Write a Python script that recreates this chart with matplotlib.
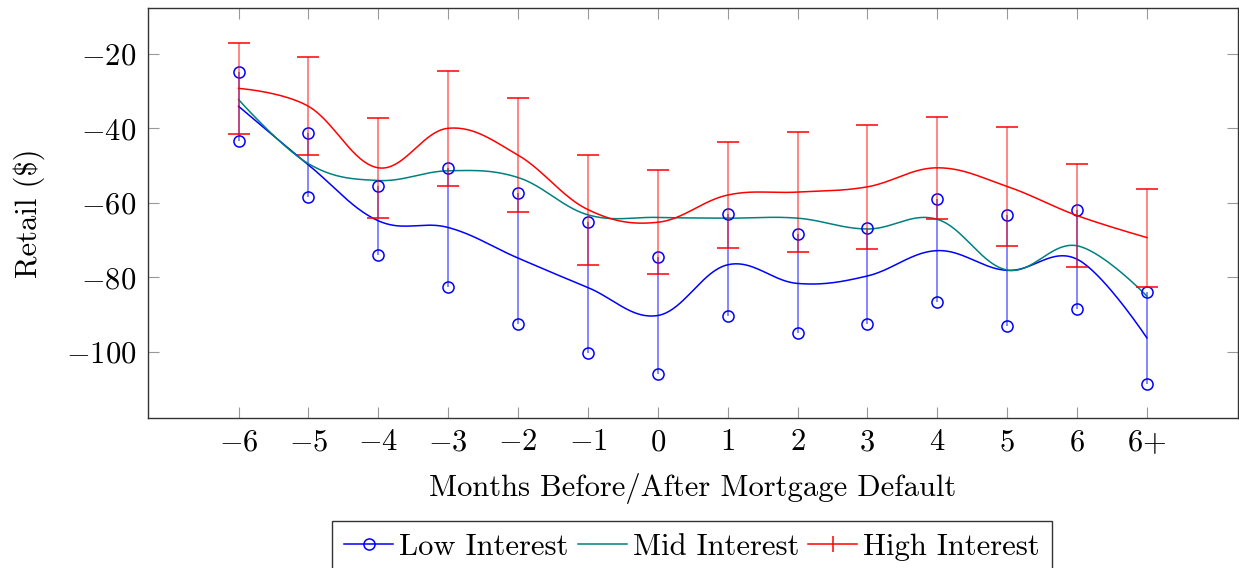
import numpy as np
import matplotlib.pyplot as plt
from matplotlib.lines import Line2D

plt.rcParams['font.family'] = 'serif'
plt.rcParams['font.serif'] = ['cmr10']
plt.rcParams['mathtext.fontset'] = 'cm'
plt.rcParams['axes.formatter.use_mathtext'] = True
plt.rcParams['axes.unicode_minus'] = True

# months relative to the default month
months = ['$-6$', '$-5$', '$-4$', '$-3$', '$-2$', '$-1$', '$0$',
          '$1$', '$2$', '$3$', '$4$', '$5$', '$6$', '$6{+}$']

low_mean = [-34.1, -49.8, -64.8, -66.6, -74.8, -82.7, -90.2,
            -76.6, -81.6, -79.6, -72.8, -78.1, -75.1, -96.2]
low_err = [9.2, 8.5, 9.2, 16.0, 17.55, 17.45, 15.75,
           13.6, 13.2, 12.9, 13.8, 14.9, 13.3, 12.3]

mid_mean = [-32.3, -49.5, -54.0, -51.4, -53.2, -63.2, -63.9,
            -64.1, -64.1, -67.0, -64.4, -78.0, -71.5, -85.0]

high_mean = [-29.3, -34.1, -50.6, -40.0, -47.2, -61.8, -65.2,
             -57.9, -57.1, -55.7, -50.6, -55.6, -63.4, -69.3]
high_err = [12.3, 13.15, 13.4, 15.45, 15.2, 14.75, 13.95,
            14.1, 16.15, 16.55, 13.7, 15.95, 13.85, 13.15]

BLUE = '#0000ff'
TEAL = '#008080'
RED = '#ff0000'
FS = 22


def smooth(x, y, tension=0.55 / 3, n=40):
    # piecewise cubic bezier through the points, tikz-style "smooth"
    p = np.column_stack([x, y]).astype(float)
    out = []
    for i in range(len(p) - 1):
        a, b = p[i], p[i + 1]
        c1 = a + tension * (p[i + 1] - p[i - 1]) if i > 0 else a
        c2 = b - tension * (p[i + 2] - p[i]) if i + 2 < len(p) else b
        t = np.linspace(0, 1, n)[:, None]
        seg = ((1 - t) ** 3 * a + 3 * (1 - t) ** 2 * t * c1
               + 3 * (1 - t) * t ** 2 * c2 + t ** 3 * b)
        out.append(seg if i == 0 else seg[1:])
    out = np.vstack(out)
    return out[:, 0], out[:, 1]


x = np.arange(len(months))

fig = plt.figure(figsize=(12.39, 5.68), dpi=100)
ax = fig.add_axes([147.7 / 1239, 1 - 417.7 / 568,
                   1090 / 1239, 409.4 / 568])

# low interest
sx, sy = smooth(x, low_mean)
ax.plot(sx, sy, color=BLUE, lw=1.1, zorder=3)
eb = ax.errorbar(x, low_mean, yerr=low_err, fmt='none', ecolor=BLUE,
                 elinewidth=1.1, capsize=0, zorder=3)
eb[2][0].set_alpha(0.6)
lo = np.array(low_mean) - np.array(low_err)
hi = np.array(low_mean) + np.array(low_err)
ax.plot(x, lo, 'o', ms=8, mfc='none', mec=BLUE, mew=1.1, zorder=4)
ax.plot(x, hi, 'o', ms=8, mfc='none', mec=BLUE, mew=1.1, zorder=4)

# mid interest
sx, sy = smooth(x, mid_mean)
ax.plot(sx, sy, color=TEAL, lw=1.1, zorder=3)

# high interest
sx, sy = smooth(x, high_mean)
ax.plot(sx, sy, color=RED, lw=1.1, zorder=5)
eb = ax.errorbar(x, high_mean, yerr=high_err, fmt='none', ecolor=RED,
                 elinewidth=1.1, capsize=8, capthick=1.1, zorder=5)
eb[2][0].set_alpha(0.6)

ax.set_xlim(-1.3, 14.3)
ax.set_ylim(-117.6, -7.83)
ax.set_xticks(x)
ax.set_xticklabels(months)
ax.set_yticks([-100, -80, -60, -40, -20])
ax.tick_params(direction='in', length=8, width=0.8, color='#999999',
               top=True, right=True, labelsize=FS, pad=8)
for s in ax.spines.values():
    s.set_color('#333333')
    s.set_linewidth(1.0)

ax.set_xlabel('Months Before/After Mortgage Default', fontsize=FS, labelpad=12)
ax.set_ylabel('Retail ($)', fontsize=FS, labelpad=15)

handles = [
    Line2D([], [], color=BLUE, lw=1.1, marker='o', ms=8, mfc='none', mew=1.1),
    Line2D([], [], color=TEAL, lw=1.1),
    Line2D([], [], color=RED, lw=1.1, marker='|', ms=12, mew=1.1),
]
leg = fig.legend(handles, ['Low Interest', 'Mid Interest', 'High Interest'],
                 loc='upper center', bbox_to_anchor=(692 / 1239, 1 - 521 / 568),
                 ncol=3, fontsize=FS, frameon=True, fancybox=False,
                 edgecolor='#333333', framealpha=1, borderpad=0.4,
                 handlelength=1.6, handletextpad=0.2, columnspacing=0.3,
                 borderaxespad=0)
leg.get_frame().set_linewidth(1.0)

fig.savefig('out.png', dpi=100)
